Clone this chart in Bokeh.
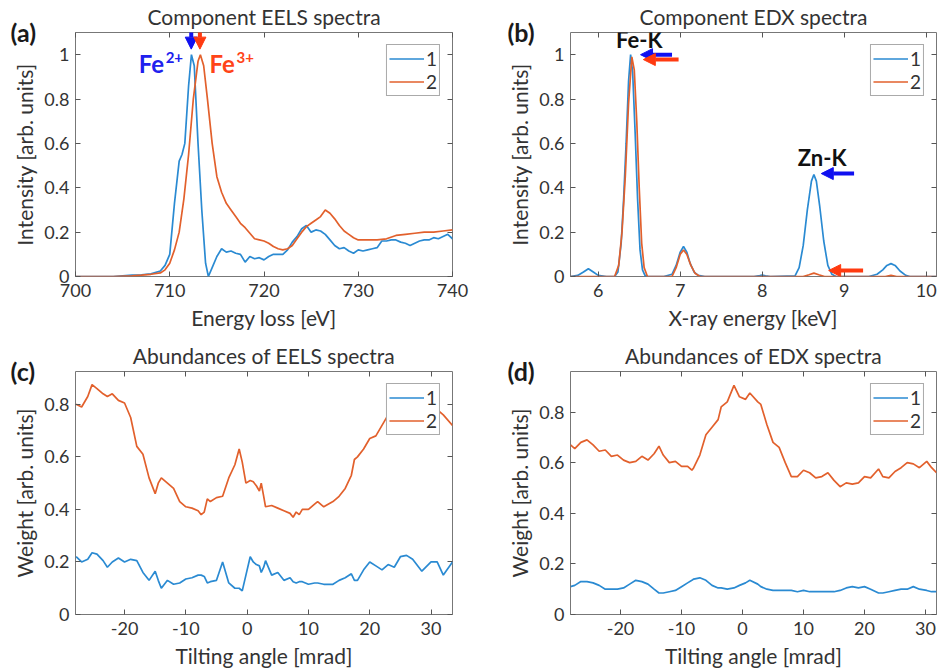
from bokeh.plotting import figure
from bokeh.layouts import column, row
from bokeh.models import Label, Arrow, NormalHead, Legend, LegendItem, FixedTicker, Range1d, Title, LinearAxis
from bokeh.embed import file_html
from bokeh.resources import INLINE

# ---------------- data ----------------
# (a) Component EELS spectra
eels_x1 = [700, 702, 704, 705, 706, 707, 708, 709, 709.5, 710, 710.5, 711, 711.3, 711.6, 712, 712.3, 712.6, 713,
           713.4, 713.8, 714.1, 714.5, 715, 715.5, 716, 716.5, 717, 717.5, 718, 718.5, 719, 719.5, 720, 720.5, 721,
           721.5, 722, 722.5, 723, 723.5, 724, 724.5, 725, 725.5, 726, 726.5, 727, 727.5, 728, 728.5, 729, 729.5,
           730, 730.5, 731, 731.5, 732, 732.5, 733, 733.5, 734, 734.5, 735, 735.5, 736, 736.5, 737, 737.5, 738,
           738.5, 739, 739.5, 740]
eels_y1 = [0, 0, 0, 0.003, 0.006, 0.008, 0.012, 0.025, 0.05, 0.1, 0.33, 0.52, 0.55, 0.6, 0.86, 1.0, 0.95, 0.6,
           0.3, 0.06, 0.0, 0.04, 0.09, 0.125, 0.11, 0.115, 0.105, 0.1, 0.065, 0.09, 0.08, 0.085, 0.075, 0.09, 0.1,
           0.1, 0.1, 0.12, 0.155, 0.18, 0.215, 0.23, 0.2, 0.21, 0.205, 0.19, 0.165, 0.14, 0.125, 0.13, 0.115, 0.105,
           0.12, 0.115, 0.12, 0.125, 0.13, 0.16, 0.16, 0.165, 0.165, 0.155, 0.15, 0.14, 0.15, 0.16, 0.165, 0.165,
           0.175, 0.17, 0.18, 0.19, 0.17]
eels_x2 = [700, 702, 704, 706, 707, 708, 709, 709.5, 710, 710.5, 711, 711.5, 712, 712.5, 713, 713.25, 713.6, 714,
           714.5, 715, 715.5, 716, 716.5, 717, 717.5, 718, 718.5, 719, 719.5, 720, 720.5, 721, 721.5, 722, 722.5,
           723, 723.5, 724, 724.5, 725, 725.5, 726, 726.5, 727, 727.5, 728, 728.5, 729, 729.5, 730, 731, 732, 733,
           734, 735, 736, 737, 738, 739, 740]
eels_y2 = [0, 0, 0, 0.003, 0.006, 0.01, 0.016, 0.03, 0.06, 0.12, 0.2, 0.35, 0.55, 0.8, 0.97, 1.0, 0.95, 0.8,
           0.6, 0.45, 0.38, 0.33, 0.3, 0.27, 0.24, 0.22, 0.195, 0.17, 0.165, 0.16, 0.15, 0.135, 0.125, 0.12, 0.125,
           0.14, 0.17, 0.2, 0.225, 0.24, 0.255, 0.27, 0.3, 0.285, 0.26, 0.23, 0.205, 0.19, 0.175, 0.165, 0.165,
           0.165, 0.17, 0.185, 0.19, 0.195, 0.2, 0.2, 0.205, 0.21]

# (b) Component EDX spectra
edx_x1 = [5.66, 5.75, 5.82, 5.88, 5.94, 6.0, 6.1, 6.2, 6.24, 6.28, 6.31, 6.34, 6.37, 6.395, 6.42, 6.45, 6.48, 6.51,
          6.54, 6.57, 6.6, 6.8, 6.9, 6.95, 7.0, 7.04, 7.08, 7.12, 7.17, 7.22, 7.3, 7.9, 7.97, 8.0, 8.04, 8.1, 8.4,
          8.45, 8.5, 8.55, 8.6, 8.63, 8.66, 8.7, 8.75, 8.8, 8.85, 8.9, 9.3, 9.4, 9.47, 9.52, 9.57, 9.62, 9.68, 9.75,
          9.8, 10.13]
edx_y1 = [0.0, 0.005, 0.02, 0.035, 0.02, 0.005, 0.0, 0.0, 0.02, 0.15, 0.35, 0.6, 0.88, 1.0, 0.92, 0.65, 0.35, 0.12,
          0.03, 0.005, 0.0, 0.0, 0.01, 0.05, 0.11, 0.135, 0.11, 0.06, 0.02, 0.005, 0.0, 0.0, 0.004, 0.006, 0.003, 0.0,
          0.003, 0.04, 0.14, 0.3, 0.43, 0.46, 0.43, 0.32, 0.16, 0.05, 0.01, 0.0, 0.0, 0.01, 0.03, 0.05, 0.058, 0.05,
          0.025, 0.005, 0.0, 0.0]
edx_x2 = [5.66, 6.2, 6.25, 6.29, 6.33, 6.37, 6.41, 6.44, 6.47, 6.5, 6.53, 6.56, 6.6, 6.9, 6.95, 7.0, 7.04, 7.08,
          7.13, 7.18, 7.24, 8.5, 8.57, 8.63, 8.69, 8.76, 9.5, 9.57, 9.64, 10.13]
edx_y2 = [0.0, 0.0, 0.05, 0.2, 0.45, 0.78, 0.99, 0.93, 0.7, 0.4, 0.15, 0.04, 0.0, 0.0, 0.04, 0.1, 0.12, 0.1,
          0.05, 0.015, 0.0, 0.0, 0.008, 0.015, 0.008, 0.0, 0.0, 0.005, 0.0, 0.0]

# (c) Abundances of EELS spectra
ang_c = [-27.9, -27, -26, -25.3, -24.5, -23.5, -22.8, -22, -21, -20, -19, -18, -17, -16, -15, -14.5, -14, -13, -12,
         -11, -10, -9, -8, -7.5, -7, -6.5, -6, -5, -4, -3, -2, -1.3, -0.8, -0.2, 0.5, 1, 1.5, 2, 2.3, 2.7, 3, 4, 5,
         6, 7, 7.5, 8, 8.5, 9, 10, 11, 11.5, 12.5, 14, 15, 16, 17, 17.5, 18, 19, 20, 21, 22, 23, 24, 24.5, 25, 26, 27,
         28.5, 30, 31, 32, 33.5]
wc_2 = [0.8, 0.79, 0.83, 0.875, 0.86, 0.84, 0.83, 0.84, 0.815, 0.805, 0.75, 0.64, 0.61, 0.52, 0.46, 0.5, 0.52, 0.5,
        0.48, 0.43, 0.41, 0.405, 0.395, 0.38, 0.39, 0.44, 0.43, 0.445, 0.45, 0.52, 0.57, 0.63, 0.58, 0.5, 0.51,
        0.505, 0.49, 0.47, 0.5, 0.45, 0.41, 0.415, 0.405, 0.395, 0.385, 0.37, 0.39, 0.38, 0.4, 0.4, 0.42, 0.43,
        0.41, 0.43, 0.45, 0.48, 0.53, 0.59, 0.6, 0.63, 0.67, 0.68, 0.72, 0.76, 0.74, 0.69, 0.73, 0.75, 0.73, 0.695,
        0.74, 0.78, 0.76, 0.72]
wc_1 = [0.22, 0.2, 0.21, 0.235, 0.23, 0.205, 0.18, 0.2, 0.215, 0.2, 0.21, 0.205, 0.16, 0.13, 0.165, 0.13, 0.1,
        0.13, 0.115, 0.12, 0.135, 0.14, 0.15, 0.15, 0.145, 0.12, 0.125, 0.13, 0.2, 0.12, 0.1, 0.1, 0.09, 0.15, 0.22,
        0.2, 0.19, 0.185, 0.16, 0.18, 0.205, 0.15, 0.16, 0.13, 0.14, 0.125, 0.12, 0.125, 0.125, 0.115, 0.12, 0.12,
        0.115, 0.115, 0.13, 0.14, 0.155, 0.13, 0.13, 0.17, 0.2, 0.185, 0.17, 0.19, 0.18, 0.2, 0.22, 0.225, 0.21,
        0.165, 0.2, 0.2, 0.15, 0.2]

# (d) Abundances of EDX spectra
ang_d = [-28.2, -27.5, -26.5, -25.5, -24.5, -23.5, -22.5, -21.5, -20.5, -19.5, -18.5, -17.5, -16.5, -15.5, -14.5,
         -13.7, -13, -12, -11, -10, -9, -8.3, -8, -7, -6, -5, -4, -3.5, -2.5, -1.4, -0.5, 0.5, 1.2, 2.5, 3, 4, 5, 6,
         7, 8, 9, 10, 11, 12, 13, 14, 15, 16, 17, 18, 19, 20, 21, 22.3, 23, 24, 25, 26, 27, 28, 29, 30.2, 31, 31.8]
wd_2 = [0.67, 0.655, 0.68, 0.69, 0.67, 0.645, 0.65, 0.625, 0.63, 0.61, 0.6, 0.605, 0.625, 0.61, 0.635, 0.665, 0.63,
        0.6, 0.605, 0.585, 0.585, 0.57, 0.58, 0.63, 0.71, 0.74, 0.77, 0.82, 0.84, 0.905, 0.86, 0.85, 0.875, 0.84,
        0.83, 0.75, 0.68, 0.66, 0.6, 0.545, 0.545, 0.57, 0.56, 0.54, 0.545, 0.56, 0.53, 0.505, 0.52, 0.515, 0.52,
        0.545, 0.54, 0.575, 0.545, 0.54, 0.565, 0.58, 0.6, 0.595, 0.58, 0.605, 0.58, 0.56]
wd_1 = [0.11, 0.115, 0.13, 0.13, 0.125, 0.115, 0.1, 0.1, 0.1, 0.105, 0.12, 0.135, 0.13, 0.12, 0.1, 0.085, 0.085,
        0.09, 0.095, 0.11, 0.125, 0.135, 0.14, 0.145, 0.135, 0.115, 0.105, 0.105, 0.1, 0.105, 0.115, 0.125, 0.135,
        0.12, 0.11, 0.1, 0.095, 0.095, 0.095, 0.095, 0.09, 0.095, 0.09, 0.09, 0.09, 0.09, 0.09, 0.095, 0.105,
        0.11, 0.105, 0.11, 0.1, 0.085, 0.085, 0.09, 0.095, 0.1, 0.1, 0.11, 0.1, 0.095, 0.09, 0.09]

legend_labels = ["1", "2"]
ticks_a = [700, 710, 720, 730, 740]
ticks_b = [6, 7, 8, 9, 10]
ticks_cd = [-20, -10, 0, 10, 20, 30]
yticks_ab = [0, 0.2, 0.4, 0.6, 0.8, 1]
yticks_cd = [0, 0.2, 0.4, 0.6, 0.8]

C1 = "#2a8ad2"
C2 = "#e2602c"
BLUE = "#1010f0"
RED = "#ff3a10"
TXT = "#333333"
FONT = "Lato"


def style_ticks(ax, t):
    ax.ticker = FixedTicker(ticks=t)
    ax.axis_line_color = None
    ax.major_tick_in = 5
    ax.major_tick_out = 0
    ax.major_tick_line_color = "#555555"
    ax.minor_tick_line_color = None


def make_fig(xr, yr, frame_w, frame_h, bl, br, bt, bb, title, xlabel, ylabel, xt, yt, tag, tag_dx):
    p = figure(width=frame_w + bl + br, height=frame_h + bt + bb, frame_width=frame_w, frame_height=frame_h,
               x_range=Range1d(*xr), y_range=Range1d(*yr), output_backend="svg", toolbar_location=None,
               min_border_left=bl, min_border_right=br, min_border_top=bt, min_border_bottom=bb,
               title=title)
    p.title.align = "center"
    p.title.text_font = FONT
    p.title.text_font_size = "21px"
    p.title.text_font_style = "normal"
    p.title.text_color = TXT
    p.title.vertical_align = "middle"
    p.title.standoff = 1
    bx = p.below[0]
    ly = p.left[0]
    for ax, lab, t in ((bx, xlabel, xt), (ly, ylabel, yt)):
        style_ticks(ax, t)
        ax.major_label_overrides = {v: (str(v) if not float(v).is_integer() else str(int(v))) for v in t}
        ax.axis_label = lab
        ax.axis_label_text_font = FONT
        ax.axis_label_text_font_size = "21px"
        ax.axis_label_text_font_style = "normal"
        ax.axis_label_text_color = TXT
        ax.major_label_text_font = FONT
        ax.major_label_text_font_size = "18px"
        ax.major_label_text_color = TXT
    bx.major_label_standoff = 7
    bx.axis_label_standoff = 5
    ly.major_label_standoff = 6
    ly.axis_label_standoff = 4
    # box ticks on the top and right edges (no labels)
    for side, t in (("above", xt), ("right", yt)):
        ax = LinearAxis(major_label_overrides={v: "" for v in t}, major_label_standoff=0)
        style_ticks(ax, t)
        p.add_layout(ax, side)
    # panel tag "(a)" etc. as a (nearly) zero-height title next to the frame
    p.add_layout(Title(text=tag, align="left", offset=tag_dx, vertical_align="middle", standoff=-30,
                       text_font=FONT, text_font_size="25px", text_font_style="bold", text_color="#1a1a1a"),
                 "above")
    p.grid.visible = False
    p.outline_line_color = "#777777"
    p.outline_line_width = 1
    p.background_fill_color = "white"
    p.border_fill_color = "white"
    return p


def add_lines(p, x1, y1, x2, y2):
    r1 = p.line(x1, y1, line_color=C1, line_width=1.7)
    r2 = p.line(x2, y2, line_color=C2, line_width=1.7)
    leg = Legend(items=[LegendItem(label=legend_labels[0], renderers=[r1]),
                        LegendItem(label=legend_labels[1], renderers=[r2])],
                 location="top_right", margin=12, padding=2, spacing=0, glyph_width=35, glyph_height=19,
                 label_standoff=2, label_width=10, label_text_font=FONT, label_text_font_size="19px",
                 label_text_color=TXT, label_height=19, border_line_color="#555555", border_line_width=1,
                 background_fill_color="white", background_fill_alpha=1)
    p.add_layout(leg)


def arrow(p, xs, ys, xe, ye, col):
    p.add_layout(Arrow(end=NormalHead(size=12, fill_color=col, line_color=col),
                       x_start=xs, y_start=ys, x_end=xe, y_end=ye, line_color=col, line_width=4))


def txt(p, x, y, s, col, size="22px", align="left", dx=0):
    p.add_layout(Label(x=x, y=y, x_offset=dx, text=s, text_font=FONT, text_font_size=size,
                       text_font_style="bold", text_color=col, text_baseline="middle", text_align=align))


# ---------------- (a) ----------------
pa = make_fig((700, 740), (0, 1.1), 377, 244, 75, 33, 32, 60, "Component EELS spectra",
              "Energy loss [eV]", "Intensity [arb. units]", ticks_a, yticks_ab, "(a)", -65)
add_lines(pa, eels_x1, eels_y1, eels_x2, eels_y2)
arrow(pa, 712.28, 1.12, 712.28, 1.025, BLUE)
arrow(pa, 713.2, 1.12, 713.2, 1.025, RED)
txt(pa, 706.7, 0.96, "Fe", "#2020ee", size="24px")
txt(pa, 706.7, 0.987, "2+", "#2020ee", size="15px", dx=27)
txt(pa, 714.22, 0.96, "Fe", "#ff4418", size="24px")
txt(pa, 714.22, 0.987, "3+", "#ff4418", size="15px", dx=27)

# ---------------- (b) ----------------
pb = make_fig((5.662, 10.125), (0, 1.1), 366, 244, 85, 4, 32, 60, "Component EDX spectra",
              "X-ray energy [keV]", "Intensity [arb. units]", ticks_b, yticks_ab, "(b)", -63)
add_lines(pb, edx_x1, edx_y1, edx_x2, edx_y2)
txt(pb, 6.5, 1.068, "Fe-K", "#111111", align="center")
txt(pb, 8.73, 0.535, "Zn-K", "#111111", align="center")
arrow(pb, 6.9, 1.0, 6.516, 1.0, BLUE)
arrow(pb, 6.98, 0.978, 6.55, 0.978, RED)
arrow(pb, 9.12, 0.464, 8.72, 0.464, BLUE)
arrow(pb, 9.23, 0.027, 8.81, 0.027, RED)

# ---------------- (c) ----------------
pc = make_fig((-28, 33.5), (0, 0.925), 377, 243, 75, 33, 35, 58, "Abundances of EELS spectra",
              "Tilting angle [mrad]", "Weight [arb. units]", ticks_cd, yticks_cd, "(c)", -65)
add_lines(pc, ang_c, wc_1, ang_c, wc_2)

# ---------------- (d) ----------------
pd_ = make_fig((-28.2, 31.8), (0, 0.96), 366, 243, 85, 4, 35, 58, "Abundances of EDX spectra",
               "Tilting angle [mrad]", "Weight [arb. units]", ticks_cd, yticks_cd, "(d)", -63)
add_lines(pd_, ang_d, wd_1, ang_d, wd_2)

layout = column(row(pa, pb), row(pc, pd_))
open("out.html", "w").write(file_html(layout, INLINE))
